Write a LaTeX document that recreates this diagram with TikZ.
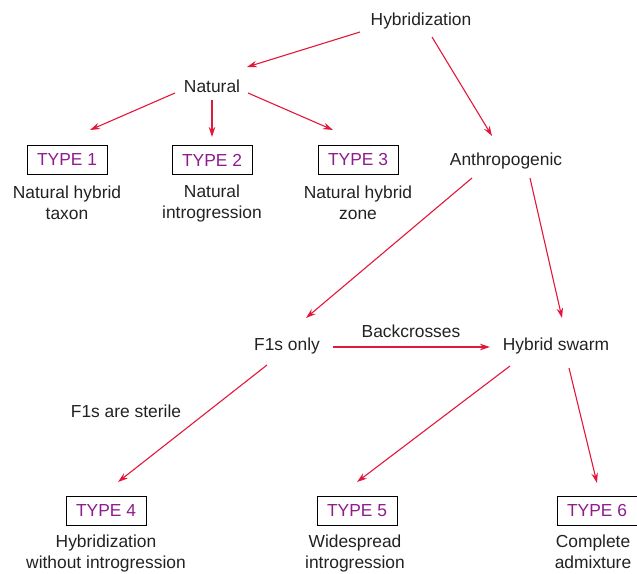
\documentclass[tikz,border=0pt]{standalone}
\usepackage{fontspec}
\setmainfont{Liberation Sans}
\usetikzlibrary{arrows.meta}
\definecolor{arrowred}{HTML}{E3173A}
\definecolor{typepurple}{HTML}{8E1C8E}
\definecolor{textgray}{HTML}{222222}
\begin{document}
\begin{tikzpicture}[x=1pt,y=-1pt,
  every node/.style={font=\fontsize{17.4}{21}\selectfont, text=textgray, inner sep=0pt},
  label/.style={align=center},
  typebox/.style={draw=black, line width=1pt, text=typepurple, minimum width=80pt, minimum height=29pt},
  link/.style={draw=arrowred, line width=1.1pt, -{Stealth[length=10pt,width=6.5pt]}}]
\useasboundingbox (0,0) rectangle (637,573);

% top level
\node (hyb) at (421,21) {Hybridization};
\node (nat) at (212,86) {Natural};
\node (anth) at (506,161) {Anthropogenic};

% natural types
\node[typebox] (t1) at (67,160) {TYPE 1};
\node[typebox] (t2) at (212,160) {TYPE 2};
\node[typebox] (t3) at (358,160) {TYPE 3};
\node[label] (d1) at (67,203) {Natural hybrid\\taxon};
\node[label] (d2) at (212,203) {Natural\\introgression};
\node[label] (d3) at (358,203) {Natural hybrid\\zone};

% anthropogenic branch
\node (f1) at (287,346) {F1s only};
\node (swarm) at (556,346) {Hybrid swarm};
\node (bc) at (411,331) {Backcrosses};
\node (ster) at (126,411) {F1s are sterile};

% anthropogenic types
\node[typebox] (t4) at (106,511) {TYPE 4};
\node[typebox] (t5) at (357,511) {TYPE 5};
\node[typebox] (t6) at (597,511) {TYPE 6};
\node[label] (d4) at (106,553) {Hybridization\\without introgression};
\node[label] (d5) at (355,553) {Widespread\\introgression};
\node[label] (d6) at (593,552) {Complete\\admixture};

% connectors
\coordinate (hybL) at (360,32);
\coordinate (hybR) at (432,37);
\coordinate (natL) at (175,93);
\coordinate (natM) at (212,100);
\coordinate (natR) at (248,93);
\coordinate (anthL) at (472,178);
\coordinate (anthR) at (530,178);
\coordinate (f1R) at (333,347);
\coordinate (f1B) at (267,365);
\coordinate (swL) at (510,366);
\coordinate (swR) at (569,368);

\draw[link] (hybL) -- (247,67) coordinate (natIn);
\draw[link] (hybR) -- (492,136) coordinate (anthIn);
\draw[link] (natL) -- (90,130) coordinate (t1In);
\draw[link] (natM) -- (212,137) coordinate (t2In);
\draw[link] (natR) -- (333,130) coordinate (t3In);
\draw[link] (anthL) -- (306,318) coordinate (f1In);
\draw[link] (anthR) -- (562,318) coordinate (swIn);
\draw[link] (f1R) -- (490,347) coordinate (swInL);
\draw[link] (f1B) -- (118,482) coordinate (t4In);
\draw[link] (swL) -- (357,482) coordinate (t5In);
\draw[link] (swR) -- (597,483) coordinate (t6In);
\end{tikzpicture}
\end{document}
